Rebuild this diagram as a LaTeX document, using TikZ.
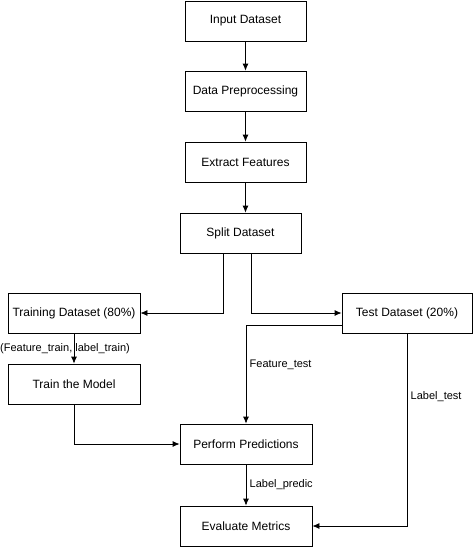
\documentclass[tikz,border=0pt]{standalone}
\usepackage{fontspec}
\setmainfont{Liberation Sans}
\usetikzlibrary{arrows.meta}
\begin{document}
\begin{tikzpicture}[x=1pt,y=-1pt,
	box/.style={draw,line width=0.8pt,minimum height=40pt,inner sep=2pt,font=\fontsize{12}{14}\selectfont},
	flow/.style={line width=0.8pt,-{Latex[length=7pt,width=6pt]}},
	lbl/.style={font=\fontsize{11}{13}\selectfont}]
	\useasboundingbox (0,0) rectangle (474,547);
	%TOP ROW
	\node[box,minimum width=121pt] (input) at (245.5,21) {Input Dataset};
	\node[box,minimum width=121pt] (prep) at (245.5,91) {Data Preprocessing};
	\node[box,minimum width=121pt] (feat) at (245.5,162) {Extract Features};
	\node[box,minimum width=121pt] (split) at (240.5,233) {Split Dataset};
	%SPLIT
	\node[box,minimum width=132pt] (train) at (74,313) {Training Dataset (80\%)};
	\node[box,minimum width=130pt] (test) at (407,313) {Test Dataset (20\%)};
	\node[box,minimum width=132pt] (model) at (74,384) {Train the Model};
	\node[box,minimum width=132pt] (pred) at (246,444) {Perform Predictions};
	\node[box,minimum width=132pt] (eval) at (246,526) {Evaluate Metrics};
	%ARROWS
	\draw[flow] (input) -- (prep);
	\draw[flow] (prep) -- (feat);
	\draw[flow] (feat.south) -- (feat.south |- split.north);
	\draw[flow] ([xshift=-17.5pt]split.south) |- (train.east);
	\draw[flow] ([xshift=10.5pt]split.south) |- (test.west);
	\draw[flow] (train) -- node[lbl,xshift=-9pt] {(Feature\_train, label\_train)} (model);
	\draw[flow] (model.south) |- (pred.west);
	\draw[flow] ([yshift=-12pt]test.west) -| node[lbl,pos=0.7,anchor=west] {Feature\_test} (pred.north);
	\draw[flow] (test.south) |- node[lbl,pos=0.165,anchor=west] {Label\_test} (eval.east);
	\draw[flow] (pred) -- node[lbl,anchor=west] {Label\_predic} (eval);
\end{tikzpicture}
\end{document}
